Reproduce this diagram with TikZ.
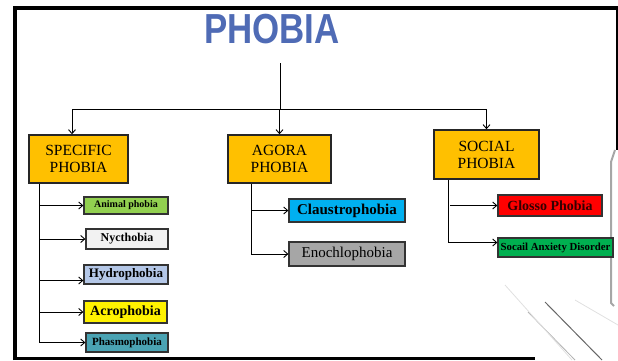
\documentclass[tikz,border=0pt]{standalone}
\usepackage{fontspec}
\usepackage{graphicx}
\setmainfont{Liberation Serif}
\newfontfamily\titlefont{Liberation Sans}
\usetikzlibrary{arrows.meta, positioning}
\definecolor{titleblue}{HTML}{4F6BB5}
\definecolor{catgold}{HTML}{FFC000}
\definecolor{leafgreen}{HTML}{92D050}
\definecolor{leafgrey}{HTML}{F2F2F2}
\definecolor{leaflav}{HTML}{B4C7E7}
\definecolor{leafteal}{HTML}{4AA3B3}
\definecolor{leafcyan}{HTML}{00B0F0}
\definecolor{leafdark}{HTML}{A6A6A6}
\definecolor{leafgreen2}{HTML}{00B050}
\tikzset{
    catbox/.style={draw=black!85, line width=1.5pt, fill=catgold, align=center, inner sep=0pt, minimum height=48pt, font=\fontsize{15.5}{17}\selectfont},
    leafbox/.style={draw=black!80, line width=1.3pt, align=center, inner sep=0pt},
    arrow/.style={-{Straight Barb[length=4pt,width=7pt]}, line width=0.9pt},
    link/.style={line width=0.9pt}
}

\begin{document}
\begin{tikzpicture}[x=1pt, y=-1pt]
        \useasboundingbox (0,0) rectangle (618,360);
        % slide frame
        \draw [line width=4pt] (15,360) -- (15,8) -- (618,8);
        \draw [line width=3pt] (617,8) -- (617,150);
        \draw [line width=3pt] (13,358.5) -- (535,358.5);
        \draw [black!35, line width=2pt] (615,150) -- (611,162) -- (611,303) -- (614,306);
        % faint streaks in the corner
        \draw [black!60, line width=1pt] (545,302) -- (602,360);
        \draw [black!30, line width=0.8pt] (528,312) -- (575,360);
        \draw [black!12, line width=0.8pt] (505,285) -- (572,360);
        \draw [black!12, line width=0.8pt] (575,300) -- (618,325);

        \node [font=\titlefont\bfseries\fontsize{42}{42}\selectfont, text=titleblue, anchor=base, inner sep=0pt] (title) at (272,43) {\scalebox{0.83}[1]{PHOBIA}};

        % categories
        \node [catbox, minimum width=99pt] (spec) at (78.5,159) {SPECIFIC\\PHOBIA};
        \node [catbox, minimum width=103pt] (agora) at (279.5,159) {AGORA\\PHOBIA};
        \node [catbox, minimum width=105pt, minimum height=49pt] (social) at (486.5,154.5) {SOCIAL\\PHOBIA};

        % specific phobias
        \node [leafbox, fill=leafgreen, minimum width=84pt, minimum height=17pt, font=\bfseries\fontsize{10}{10}\selectfont] (animal) at (126,205.5) {Animal phobia};
        \node [leafbox, fill=leafgrey, minimum width=82pt, minimum height=20pt, font=\bfseries\fontsize{12}{12}\selectfont] (nyct) at (127,239) {Nycthobia};
        \node [leafbox, fill=leaflav, minimum width=84pt, minimum height=19pt, font=\bfseries\fontsize{13}{13}\selectfont] (hydro) at (126,274.5) {Hydrophobia};
        \node [leafbox, fill=yellow, minimum width=83pt, minimum height=22pt, font=\bfseries\fontsize{14}{14}\selectfont] (acro) at (125.5,312) {Acrophobia};
        \node [leafbox, fill=leafteal, minimum width=82pt, minimum height=19pt, font=\bfseries\fontsize{11}{11}\selectfont] (phasmo) at (127,342.5) {Phasmophobia};

        % agora phobias
        \node [leafbox, fill=leafcyan, minimum width=116pt, minimum height=23pt, font=\bfseries\fontsize{15}{15}\selectfont] (claus) at (347,210.5) {Claustrophobia};
        \node [leafbox, fill=leafdark, minimum width=116pt, minimum height=24pt, font=\fontsize{15}{15}\selectfont] (enoch) at (347,254) {Enochlophobia};

        % social phobias
        \node [leafbox, fill=red, minimum width=104pt, minimum height=21pt, font=\bfseries\fontsize{14}{14}\selectfont, text=black!80!red] (glosso) at (550,205.5) {Glosso Phobia};
        \node [leafbox, fill=leafgreen2, minimum width=115pt, minimum height=19pt, font=\bfseries\fontsize{10.8}{10.8}\selectfont] (socail) at (555.5,247.5) {Socail Anxiety Disorder};

        % top level
        \coordinate (stem) at (280,63);
        \coordinate (hub) at (280,109);
        \draw [link] (stem) -- (hub);
        \draw [arrow] (hub) -| ([xshift=-6.5pt]spec.north);
        \draw [arrow] (hub -| agora.north) -- (agora.north);
        \draw [arrow] (hub) -| (social.north);

        % branches
        \coordinate (spectrunk) at ([xshift=-39.5pt]spec.south);
        \coordinate (hydroin) at ([yshift=-6pt]hydro.west);
        \draw [arrow] (spectrunk) |- (phasmo.west);
        \foreach \leaf in {animal, nyct, acro}
            \draw [arrow] (spectrunk |- \leaf.west) -- (\leaf.west);
        \draw [arrow] (spectrunk |- hydroin) -- (hydroin);

        \coordinate (agoratrunk) at ([xshift=-28.5pt]agora.south);
        \draw [arrow] (agoratrunk) |- (enoch.west);
        \draw [arrow] (agoratrunk |- claus.west) -- (claus.west);

        \coordinate (socialtrunk) at ([xshift=-38.5pt]social.south);
        \draw [arrow] (socialtrunk) |- ([yshift=5pt]socail.west);
        \draw [arrow] ([xshift=2pt]socialtrunk |- glosso.west) -- (glosso.west);
    \end{tikzpicture}
\end{document}
